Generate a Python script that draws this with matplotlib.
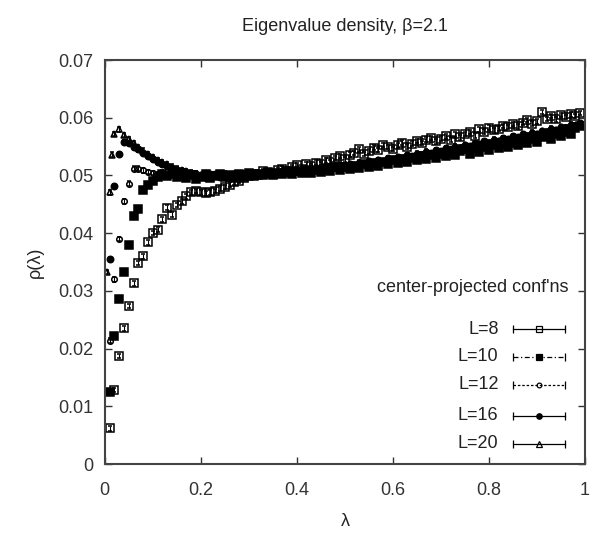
import numpy as np
import matplotlib
matplotlib.use('Agg')
import matplotlib.pyplot as plt

plt.rcParams['font.family'] = ['Liberation Sans', 'DejaVu Sans']

# eigenvalue bins (lambda), one per 0.01
lam = np.round(np.arange(1, 100) * 0.01, 2)
# L=20 has a few extra bins close to zero
lam20 = np.concatenate([[0.004, 0.010, 0.015], lam[1:]])

rho8 = [0.0062, 0.0128, 0.0187, 0.0235, 0.0274, 0.0313, 0.0348, 0.0360, 0.0384, 0.0400,
        0.0406, 0.0424, 0.0444, 0.0432, 0.0449, 0.0455, 0.0464, 0.0471, 0.0473, 0.0471,
        0.0469, 0.0471, 0.0473, 0.0477, 0.0480, 0.0484, 0.0488, 0.0491, 0.0496, 0.0499,
        0.0503, 0.0501, 0.0508, 0.0505, 0.0503, 0.0509, 0.0512, 0.0507, 0.0514, 0.0518,
        0.0511, 0.0519, 0.0516, 0.0522, 0.0520, 0.0526, 0.0523, 0.0530, 0.0534, 0.0528,
        0.0536, 0.0539, 0.0545, 0.0537, 0.0542, 0.0548, 0.0544, 0.0553, 0.0549, 0.0546,
        0.0552, 0.0557, 0.0550, 0.0555, 0.0560, 0.0556, 0.0562, 0.0565, 0.0559, 0.0564,
        0.0568, 0.0562, 0.0571, 0.0566, 0.0572, 0.0575, 0.0569, 0.0580, 0.0576, 0.0583,
        0.0578, 0.0581, 0.0586, 0.0584, 0.0589, 0.0585, 0.0591, 0.0596, 0.0590, 0.0594,
        0.0610, 0.0598, 0.0603, 0.0597, 0.0605, 0.0601, 0.0606, 0.0603, 0.0608]

rho10 = [0.0124, 0.0221, 0.0286, 0.0333, 0.0379, 0.0429, 0.0442, 0.0474, 0.0484, 0.0490,
         0.0497, 0.0502, 0.0499, 0.0503, 0.0497, 0.0501, 0.0496, 0.0500, 0.0494, 0.0498,
         0.0502, 0.0495, 0.0499, 0.0503, 0.0497, 0.0501, 0.0496, 0.0502, 0.0498, 0.0504,
         0.0499, 0.0503, 0.0500, 0.0506, 0.0501, 0.0505, 0.0502, 0.0508, 0.0503, 0.0507,
         0.0504, 0.0510, 0.0505, 0.0509, 0.0506, 0.0512, 0.0508, 0.0514, 0.0509, 0.0515,
         0.0511, 0.0517, 0.0513, 0.0519, 0.0515, 0.0521, 0.0517, 0.0523, 0.0520, 0.0526,
         0.0521, 0.0528, 0.0523, 0.0530, 0.0526, 0.0533, 0.0528, 0.0535, 0.0530, 0.0538,
         0.0533, 0.0540, 0.0535, 0.0542, 0.0545, 0.0538, 0.0547, 0.0541, 0.0549, 0.0544,
         0.0552, 0.0547, 0.0555, 0.0550, 0.0557, 0.0553, 0.0560, 0.0556, 0.0563, 0.0558,
         0.0566, 0.0569, 0.0563, 0.0572, 0.0568, 0.0576, 0.0572, 0.0582, 0.0586]

rho12 = [0.0214, 0.0320, 0.0390, 0.0455, 0.0486, 0.0512, 0.0512, 0.0509, 0.0506, 0.0504,
         0.0502, 0.0505, 0.0500, 0.0503, 0.0499, 0.0502, 0.0498, 0.0501, 0.0497, 0.0500,
         0.0496, 0.0499, 0.0502, 0.0498, 0.0501, 0.0497, 0.0500, 0.0503, 0.0499, 0.0502,
         0.0500, 0.0504, 0.0501, 0.0505, 0.0502, 0.0506, 0.0503, 0.0507, 0.0504, 0.0508,
         0.0505, 0.0509, 0.0507, 0.0511, 0.0508, 0.0512, 0.0510, 0.0514, 0.0511, 0.0516,
         0.0513, 0.0518, 0.0515, 0.0520, 0.0517, 0.0522, 0.0519, 0.0524, 0.0522, 0.0527,
         0.0524, 0.0529, 0.0527, 0.0532, 0.0529, 0.0535, 0.0532, 0.0538, 0.0535, 0.0541,
         0.0538, 0.0544, 0.0541, 0.0547, 0.0544, 0.0550, 0.0547, 0.0553, 0.0550, 0.0556,
         0.0553, 0.0559, 0.0556, 0.0562, 0.0559, 0.0565, 0.0563, 0.0568, 0.0566, 0.0572,
         0.0569, 0.0575, 0.0573, 0.0579, 0.0577, 0.0583, 0.0581, 0.0587, 0.0590]

rho16 = [0.0355, 0.0482, 0.0537, 0.0558, 0.0556, 0.0550, 0.0545, 0.0539, 0.0534, 0.0529,
         0.0524, 0.0520, 0.0516, 0.0513, 0.0510, 0.0508, 0.0506, 0.0504, 0.0503, 0.0501,
         0.0499, 0.0502, 0.0500, 0.0497, 0.0501, 0.0499, 0.0502, 0.0500, 0.0503, 0.0501,
         0.0504, 0.0502, 0.0505, 0.0503, 0.0506, 0.0504, 0.0507, 0.0505, 0.0509, 0.0507,
         0.0510, 0.0508, 0.0512, 0.0510, 0.0514, 0.0512, 0.0516, 0.0514, 0.0518, 0.0516,
         0.0520, 0.0518, 0.0522, 0.0520, 0.0525, 0.0523, 0.0527, 0.0525, 0.0530, 0.0528,
         0.0532, 0.0530, 0.0535, 0.0533, 0.0538, 0.0536, 0.0541, 0.0539, 0.0544, 0.0542,
         0.0547, 0.0545, 0.0550, 0.0548, 0.0553, 0.0551, 0.0556, 0.0554, 0.0559, 0.0557,
         0.0562, 0.0560, 0.0565, 0.0563, 0.0568, 0.0566, 0.0571, 0.0569, 0.0574, 0.0572,
         0.0577, 0.0576, 0.0581, 0.0579, 0.0584, 0.0583, 0.0588, 0.0586, 0.0591]

rho20 = [0.0333, 0.0471, 0.0536, 0.0572, 0.0580, 0.0570, 0.0563, 0.0556, 0.0549, 0.0543,
         0.0537, 0.0532, 0.0527, 0.0523, 0.0519, 0.0515, 0.0512, 0.0509, 0.0507, 0.0505,
         0.0503, 0.0501, 0.0504, 0.0500, 0.0502, 0.0499, 0.0503, 0.0500, 0.0502, 0.0499,
         0.0503, 0.0501, 0.0504, 0.0502, 0.0505, 0.0503, 0.0506, 0.0504, 0.0507, 0.0505,
         0.0508, 0.0506, 0.0509, 0.0507, 0.0511, 0.0509, 0.0513, 0.0511, 0.0515, 0.0513,
         0.0517, 0.0515, 0.0519, 0.0517, 0.0521, 0.0519, 0.0524, 0.0522, 0.0526, 0.0524,
         0.0529, 0.0527, 0.0531, 0.0529, 0.0534, 0.0532, 0.0537, 0.0535, 0.0540, 0.0538,
         0.0543, 0.0541, 0.0546, 0.0544, 0.0549, 0.0547, 0.0552, 0.0550, 0.0555, 0.0553,
         0.0558, 0.0556, 0.0561, 0.0559, 0.0564, 0.0562, 0.0567, 0.0565, 0.0570, 0.0568,
         0.0573, 0.0572, 0.0577, 0.0575, 0.0580, 0.0579, 0.0584, 0.0582, 0.0587, 0.0586,
         0.0590]

err = 0.0004
labels = ['L=8', 'L=10', 'L=12', 'L=16', 'L=20']
xs = [lam, lam, lam, lam, lam20]
ys = [rho8, rho10, rho12, rho16, rho20]
markers = ['s', 's', 'o', 'o', '^']
sizes = [5.6, 5.6, 4.0, 4.6, 4.4]
faces = ['none', 'k', 'none', 'k', 'none']
keystyles = ['-', (0, (4, 2, 1, 2)), (0, (2, 1.5)), '-', '-']

xticks = [0, 0.2, 0.4, 0.6, 0.8, 1]
xticklabels = ['0', '0.2', '0.4', '0.6', '0.8', '1']
yticks = [0, 0.01, 0.02, 0.03, 0.04, 0.05, 0.06, 0.07]
yticklabels = ['0', '0.01', '0.02', '0.03', '0.04', '0.05', '0.06', '0.07']

fig = plt.figure(figsize=(5.9, 5.36), dpi=100)
ax = fig.add_axes([0.1775, 0.1343, 0.814, 0.7537])

for x, y, m, s, fc in zip(xs, ys, markers, sizes, faces):
    ax.errorbar(x, y, yerr=err, fmt=m, ms=s, mfc=fc, mec='k', mew=1.1,
                ecolor='k', elinewidth=0.8, capsize=1.4, ls='none')

ax.set_xlim(0, 1)
ax.set_ylim(0, 0.07)
ax.set_xticks(xticks)
ax.set_xticklabels(xticklabels)
ax.set_yticks(yticks)
ax.set_yticklabels(yticklabels)
ax.tick_params(direction='in', length=5, width=1, top=True, right=True,
               labelsize=13, colors='#333333')
ax.tick_params(axis='x', pad=13)
ax.tick_params(axis='y', pad=8)
for sp in ax.spines.values():
    sp.set_color('#444444')
    sp.set_linewidth(1.5)

# key, gnuplot style: label, then line with end caps and the symbol
ax.text(0.965, 0.438, "center-projected conf'ns", transform=ax.transAxes,
        ha='right', va='center', fontsize=13, color='#222222')
key_y = [0.334, 0.265, 0.196, 0.119, 0.050]
for lab, ky, m, s, fc, st in zip(labels, key_y, markers, sizes, faces, keystyles):
    ax.text(0.82, ky, lab, transform=ax.transAxes, ha='right', va='center',
            fontsize=13, color='#222222')
    ax.plot([0.851, 0.959], [ky, ky], transform=ax.transAxes, color='k',
            lw=0.9, ls=st, clip_on=False)
    ax.plot([0.851, 0.959], [ky, ky], transform=ax.transAxes, ls='none',
            marker='|', ms=6, mew=0.9, color='k', clip_on=False)
    ax.plot([0.905], [ky], transform=ax.transAxes, marker=m, ms=s * 0.85, mfc=fc,
            mec='k', mew=0.9, ls='none', clip_on=False)

fig.text(345 / 590, 1 - 31 / 536, 'Eigenvalue density, β=2.1', ha='center',
         va='baseline', fontsize=13, color='#222222')
fig.text(345 / 590, 1 - 522 / 536, 'λ', ha='center', va='center',
         fontsize=13, color='#222222')
fig.text(35 / 590, 1 - 262 / 536, 'ρ(λ)', ha='center', va='center',
         rotation=90, fontsize=13, color='#222222')

fig.savefig('out.png', dpi=100)
